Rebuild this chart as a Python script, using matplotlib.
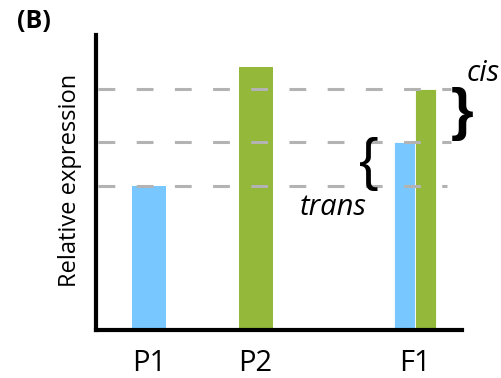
import matplotlib.pyplot as plt

# > Relative expression of parents vs F1 hybrid (cis / trans)

groups = ["P1", "P2", "F1"]
group_x = [1.0, 2.0, 3.5]

p1_value = 3.0
p2_value = 5.48
f1_blue = 3.92
f1_green = 5.02

BLUE = "#78c8ff"
GREEN = "#93b83a"
GRAY = "#b3b3b3"

plt.rcParams['font.family'] = ['Open Sans', 'DejaVu Sans']

fig = plt.figure(figsize=(5.01, 3.78), dpi=100)
ax = fig.add_axes([96 / 501, 48 / 378, 366 / 501, 295 / 378])

ax.bar(group_x[0], p1_value, width=0.32, color=BLUE, zorder=1)
ax.bar(group_x[1], p2_value, width=0.32, color=GREEN, zorder=1)
ax.bar(group_x[2] - 0.1, f1_blue, width=0.2, color=BLUE,
       edgecolor='white', linewidth=0.6, zorder=1)
ax.bar(group_x[2] + 0.1, f1_green, width=0.2, color=GREEN,
       edgecolor='white', linewidth=0.6, zorder=1)

# reference levels
for level, x_end in [(f1_green, 3.84), (f1_blue, 3.84), (p1_value, 3.80)]:
    ax.hlines(level, 0.52, x_end, colors=GRAY, linewidth=2.2,
              linestyles=(0, (5.5, 7)), zorder=2)

ax.set_xlim(0.5, 3.94)
ax.set_ylim(0, 6.15)

for side in ['top', 'right']:
    ax.spines[side].set_visible(False)
for side in ['left', 'bottom']:
    ax.spines[side].set_linewidth(3)
ax.set_yticks([])
ax.set_xticks(group_x)
ax.set_xticklabels(groups, fontsize=21)
ax.tick_params(axis='x', length=0, pad=14)

ax.set_ylabel('Relative expression', fontsize=17, va='center')
ax.yaxis.set_label_coords(-0.07, 0.508)

# braces and labels
ax.text(3.94, (f1_green + f1_blue) / 2 + 0.03, '}', fontsize=42,
        fontweight='bold', ha='center', va='center', clip_on=False,
        family='Liberation Sans')
ax.text(3.06, (f1_blue + p1_value) / 2, '{', fontsize=42,
        ha='center', va='center', clip_on=False, family='Liberation Sans')
ax.text(4.14, 5.35, 'cis', fontsize=21, style='italic',
        ha='center', va='center', clip_on=False)
ax.text(2.73, 2.55, 'trans', fontsize=21, style='italic',
        ha='center', va='center')

fig.text(17 / 501, 1 - 21 / 378, '(B)', fontsize=18, fontweight='bold',
         ha='left', va='center')

plt.savefig('out.png', dpi=100)
